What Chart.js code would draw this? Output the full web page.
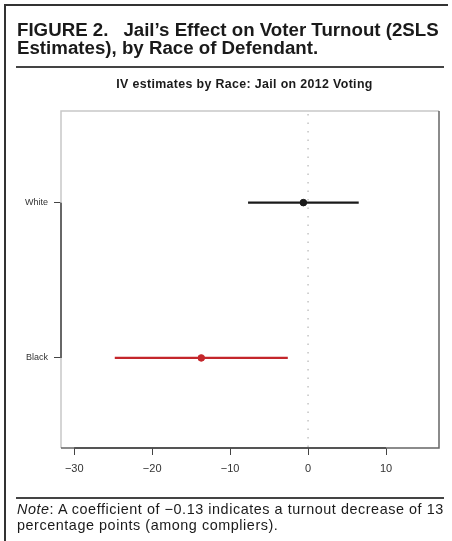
<!DOCTYPE html>
<html>
<head>
<meta charset="utf-8">
<script src="https://cdn.jsdelivr.net/npm/chart.js@4"></script>
<style>
  html, body { margin: 0; padding: 0; background: #fff; }
  #wrap { position: relative; width: 452px; height: 541px; overflow: hidden; font-family: "Liberation Sans", Arial, sans-serif; color: #1a1a1a; }
  #c { position: absolute; left: 0; top: 0; }
  .frame-l { position: absolute; left: 4px; top: 4px; width: 1.5px; height: 537px; background: #333; }
  .frame-t { position: absolute; left: 4px; top: 4px; width: 444px; height: 1.5px; background: #333; }
  .rule { position: absolute; left: 16px; width: 428px; height: 1.5px; background: #444; }
  #head { position: absolute; left: 17px; top: 21px; font-size: 18.7px; line-height: 17.6px; font-weight: bold; white-space: nowrap; }
  #head .gap { display: inline-block; width: 15px; }
  #sub { position: absolute; left: 0; width: 489px; top: 77px; text-align: center; font-size: 12.4px; letter-spacing: 0.35px; font-weight: bold; white-space: nowrap; }
  #note { position: absolute; left: 17px; top: 502px; font-size: 14.4px; letter-spacing: 0.55px; line-height: 15.8px; white-space: nowrap; }
</style>
</head>
<body>
<div id="wrap">
  <canvas id="c" width="452" height="541"></canvas>
  <div class="frame-l"></div>
  <div class="frame-t"></div>
  <div id="head">FIGURE 2.<span class="gap"></span>Jail’s Effect on Voter Turnout (2SLS<br>Estimates), by Race of Defendant.</div>
  <div class="rule" style="top:66px"></div>
  <div id="sub">IV estimates by Race: Jail on 2012 Voting</div>
  <div class="rule" style="top:497px"></div>
  <div id="note"><i>Note</i>: A coefficient of −0.13 indicates a turnout decrease of 13<br>percentage points (among compliers).</div>
</div>
<script>
// values (percentage points)
const races = ["Black", "White"];
const estimates = [-13.7, -0.6];
const lower = [-24.8, -7.7];
const upper = [-2.6, 6.5];
const xTicks = [-30, -20, -10, 0, 10];

const raceColors = ["#c4262b", "#1a1a1a"];

const datasets = [];
races.forEach((r, i) => {
  const y = i + 1;
  datasets.push({
    type: "line",
    label: r + " CI",
    data: [{ x: lower[i], y }, { x: upper[i], y }],
    borderColor: raceColors[i],
    borderWidth: 2.2,
    pointRadius: 0,
  });
  datasets.push({
    type: "scatter",
    label: r,
    data: [{ x: estimates[i], y }],
    backgroundColor: raceColors[i],
    borderColor: raceColors[i],
    pointRadius: 3.3,
  });
});

function minusFmt(v) {
  return v < 0 ? "\u2212" + Math.abs(v) : String(v);
}

// R-style box, zero reference line, axis segments between outer ticks
const rFrame = {
  id: "rFrame",
  beforeDatasetsDraw(chart) {
    const { ctx, chartArea: a, scales } = chart;
    const x0 = scales.x.getPixelForValue(0);
    ctx.save();
    ctx.strokeStyle = "#c4c4c4";
    ctx.lineWidth = 1.5;
    ctx.setLineDash([1.5, 7]);
    ctx.beginPath();
    ctx.moveTo(x0, a.top + 3);
    ctx.lineTo(x0, a.bottom);
    ctx.stroke();
    ctx.restore();
  },
  afterDraw(chart) {
    const { ctx, chartArea: a, scales } = chart;
    ctx.save();
    ctx.lineWidth = 1.5;
    ctx.strokeStyle = "#c8c8c8";
    ctx.beginPath();
    ctx.moveTo(a.left, a.bottom);
    ctx.lineTo(a.left, a.top);
    ctx.lineTo(a.right, a.top);
    ctx.stroke();
    ctx.strokeStyle = "#666";
    ctx.beginPath();
    ctx.moveTo(a.right, a.top);
    ctx.lineTo(a.right, a.bottom);
    ctx.lineTo(a.left, a.bottom);
    ctx.stroke();
    ctx.strokeStyle = "#444";
    ctx.beginPath();
    ctx.moveTo(a.left, scales.y.getPixelForValue(1));
    ctx.lineTo(a.left, scales.y.getPixelForValue(2));
    ctx.moveTo(scales.x.getPixelForValue(xTicks[0]), a.bottom);
    ctx.lineTo(scales.x.getPixelForValue(xTicks[xTicks.length - 1]), a.bottom);
    ctx.stroke();
    ctx.restore();
  },
};

new Chart(document.getElementById("c"), {
  data: { datasets },
  options: {
    responsive: false,
    animation: false,
    devicePixelRatio: 1,
    layout: { padding: { top: 111, right: 13, left: 0, bottom: 0 } },
    plugins: { legend: { display: false }, tooltip: { enabled: false } },
    scales: {
      x: {
        type: "linear",
        min: -31.7,
        max: 16.8,
        afterBuildTicks: (s) => { s.ticks = xTicks.map((v) => ({ value: v })); },
        afterFit: (s) => { s.height = 93; },
        grid: { drawOnChartArea: false, drawTicks: true, tickLength: 7, color: "#444", lineWidth: 1 },
        border: { display: false },
        ticks: {
          color: "#333",
          padding: 7,
          font: { family: "Liberation Sans", size: 11 },
          callback: (v) => minusFmt(v),
        },
      },
      y: {
        type: "linear",
        min: 0.42,
        max: 2.59,
        afterBuildTicks: (s) => { s.ticks = races.map((_, i) => ({ value: i + 1 })); },
        afterFit: (s) => { s.width = 61; },
        grid: { drawOnChartArea: false, drawTicks: true, tickLength: 7, color: "#444", lineWidth: 1 },
        border: { display: false },
        ticks: {
          color: "#333",
          padding: 6,
          font: { family: "Liberation Sans", size: 9 },
          callback: (v) => races[v - 1] || "",
        },
      },
    },
  },
  plugins: [rFrame],
});
</script>
</body>
</html>
